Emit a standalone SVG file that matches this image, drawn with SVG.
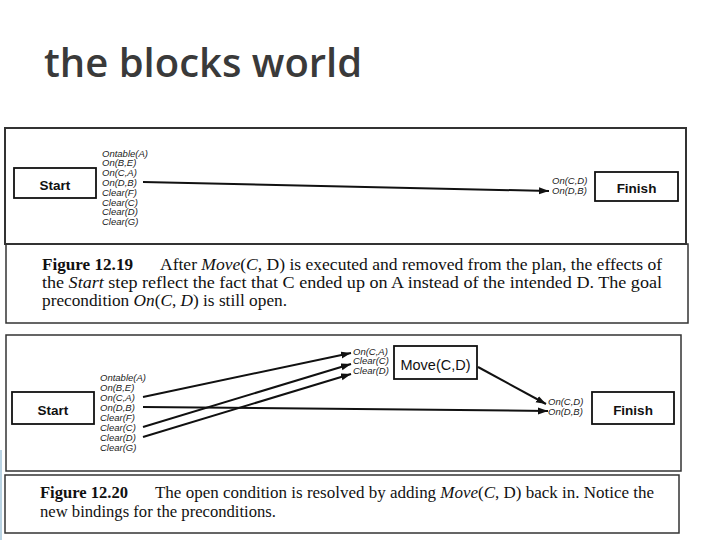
<svg xmlns="http://www.w3.org/2000/svg" width="720" height="540" viewBox="0 0 720 540">
<defs>
<marker id="ah" markerUnits="userSpaceOnUse" markerWidth="11" markerHeight="8" refX="10" refY="3.5" orient="auto">
<path d="M0,0 L10,3.5 L0,7 z" fill="#111"/>
</marker>
<style>
.title{font-family:"Open Sans","DejaVu Sans",sans-serif;font-weight:600;font-size:40px;fill:#3a3a3a}
.frame{fill:none;stroke:#333;stroke-width:1.5}
.box{fill:#fff;stroke:#111;stroke-width:1.8}
.bl{font-family:"Liberation Sans",Arial,sans-serif;font-weight:bold;font-size:13.5px;fill:#111;text-anchor:middle}
.mv{font-family:"Liberation Sans",Arial,sans-serif;font-size:14.5px;fill:#111;text-anchor:middle}
.lab{font-family:"Liberation Sans",Arial,sans-serif;font-style:italic;font-size:9.5px;fill:#222}
.cap{font-family:"Liberation Serif","Times New Roman",serif;font-size:16px;fill:#111}
.fig{font-weight:bold}
.it{font-style:italic}
.edge{stroke:#111;stroke-width:2;fill:none;marker-end:url(#ah)}
</style>
</defs>
<rect width="720" height="540" fill="#fff"/>
<text class="title" x="44" y="77">the blocks world</text>

<!-- frames -->
<g id="frames">
<rect class="frame" x="5" y="128" width="681" height="116" style="stroke-width:2"/>
<rect class="frame" x="6" y="244" width="682" height="79"/>
<rect class="frame" x="6" y="335" width="675" height="136"/>
<rect class="frame" x="5" y="475" width="674" height="58"/>
<rect x="0" y="450" width="2" height="90" fill="#b9d3e3"/>
</g>

<!-- Figure 12.19 -->
<g id="start1">
<rect class="box" x="14" y="168" width="82" height="30"/>
<text class="bl" x="55" y="190">Start</text>
<text class="lab" x="102"><tspan x="102" y="156.5">Ontable(A)</tspan><tspan x="102" y="166.3">On(B,E)</tspan><tspan x="102" y="176.1">On(C,A)</tspan><tspan x="102" y="185.9">On(D,B)</tspan><tspan x="102" y="195.7">Clear(F)</tspan><tspan x="102" y="205.5">Clear(C)</tspan><tspan x="102" y="215.3">Clear(D)</tspan><tspan x="102" y="225.1">Clear(G)</tspan></text>
</g>
<g id="finish1">
<rect class="box" x="595" y="172" width="83" height="29"/>
<text class="bl" x="636.5" y="193">Finish</text>
<text class="lab"><tspan x="552" y="183.5">On(C,D)</tspan><tspan x="552" y="193.5">On(D,B)</tspan></text>
</g>

<g id="caption1">
<text class="cap fig" x="42" y="270" textLength="91" lengthAdjust="spacingAndGlyphs">Figure 12.19</text>
<text class="cap" x="160" y="270" textLength="502" lengthAdjust="spacingAndGlyphs">After <tspan class="it">Move</tspan>(<tspan class="it">C</tspan>, D) is executed and removed from the plan, the effects of</text>
<text class="cap" x="42" y="288" textLength="620" lengthAdjust="spacingAndGlyphs">the <tspan class="it">Start</tspan> step reflect the fact that C ended up on A instead of the intended D. The goal</text>
<text class="cap" x="42" y="306" textLength="245" lengthAdjust="spacingAndGlyphs">precondition <tspan class="it">On</tspan>(<tspan class="it">C</tspan>, <tspan class="it">D</tspan>) is still open.</text>
</g>

<!-- Figure 12.20 -->
<g id="start2">
<rect class="box" x="12" y="392" width="82" height="32"/>
<text class="bl" x="53" y="415">Start</text>
<text class="lab"><tspan x="100" y="380.5">Ontable(A)</tspan><tspan x="100" y="390.6">On(B,E)</tspan><tspan x="100" y="400.7">On(C,A)</tspan><tspan x="100" y="410.8">On(D,B)</tspan><tspan x="100" y="420.9">Clear(F)</tspan><tspan x="100" y="431">Clear(C)</tspan><tspan x="100" y="441.1">Clear(D)</tspan><tspan x="100" y="451.2">Clear(G)</tspan></text>
</g>
<g id="move">
<rect class="box" x="394" y="346" width="83" height="33"/>
<text class="mv" x="435.5" y="370">Move(C,D)</text>
<text class="lab"><tspan x="353" y="354.5">On(C,A)</tspan><tspan x="353" y="364">Clear(C)</tspan><tspan x="353" y="373.5">Clear(D)</tspan></text>
</g>
<g id="finish2">
<rect class="box" x="592" y="392" width="82" height="32"/>
<text class="bl" x="633" y="415">Finish</text>
<text class="lab"><tspan x="548" y="404.5">On(C,D)</tspan><tspan x="548" y="414.5">On(D,B)</tspan></text>
</g>

<g id="caption2">
<text class="cap fig" x="40" y="498" textLength="88" lengthAdjust="spacingAndGlyphs">Figure 12.20</text>
<text class="cap" x="155" y="498" textLength="499" lengthAdjust="spacingAndGlyphs">The open condition is resolved by adding <tspan class="it">Move</tspan>(<tspan class="it">C</tspan>, D) back in. Notice the</text>
<text class="cap" x="40" y="517" textLength="236" lengthAdjust="spacingAndGlyphs">new bindings for the preconditions.</text>
</g>

<g id="connectors">
<line class="edge" x1="143" y1="182" x2="549" y2="191"/>
<line class="edge" x1="143" y1="397" x2="351" y2="353"/>
<line class="edge" x1="143" y1="427" x2="351" y2="364"/>
<line class="edge" x1="143" y1="437" x2="351" y2="374"/>
<line class="edge" x1="143" y1="407" x2="548" y2="411"/>
<line class="edge" x1="478" y1="367" x2="546" y2="404"/>
</g>
</svg>
